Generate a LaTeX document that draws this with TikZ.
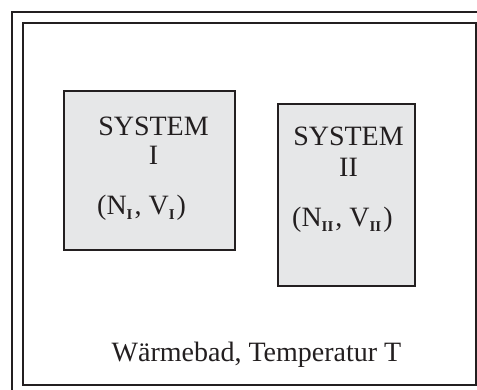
\documentclass[tikz,border=0pt]{standalone}
\usepackage{fontspec}
\setmainfont{Liberation Serif}
\definecolor{boxgray}{HTML}{E6E7E8}
\definecolor{ink}{HTML}{231F20}
\newcommand{\subI}[1]{\raisebox{-5pt}{\fontsize{15}{15}\selectfont\bfseries #1}\kern2pt}
\begin{document}
\begin{tikzpicture}[x=1pt,y=-1pt,
  frame/.style={draw=ink,line width=1.8pt},
  sysbox/.style={draw=ink,line width=1.8pt,fill=boxgray},
  lbl/.style={font=\fontsize{28}{30}\selectfont,text=ink,inner sep=0pt,anchor=base}]
\useasboundingbox (0,0) rectangle (477,390);
\fill[white] (0,0) rectangle (477,390);
% outer frame (cut off at right and bottom)
\coordinate (o1) at (12,390);
\coordinate (o2) at (12,12);
\coordinate (o3) at (477,12);
\draw[frame] (o1) -- (o2) -- (o3);
% inner frame
\coordinate (i1) at (23,23);
\coordinate (i2) at (476,385);
\draw[frame] (i1) rectangle (i2);
% system boxes
\coordinate (a1) at (64,91);
\coordinate (a2) at (235,250);
\draw[sysbox] (a1) rectangle (a2);
\coordinate (b1) at (278,104);
\coordinate (b2) at (415,286);
\draw[sysbox] (b1) rectangle (b2);
% texts
\node[lbl] (s1) at (153.5,136) {SYSTEM};
\node[lbl] (n1) at (153.5,165) {I};
\node[lbl,anchor=base west] (p1) at (97,215) {(N\subI{I}, V\subI{I})};
\node[lbl] (s2) at (348.5,146) {SYSTEM};
\node[lbl] (n2) at (348.5,177) {II};
\node[lbl,anchor=base west] (p2) at (292,227) {(N\subI{II}, V\subI{II})};
\node[lbl] (w) at (256.5,362) {Wärmebad, Temperatur T};
\end{tikzpicture}
\end{document}
